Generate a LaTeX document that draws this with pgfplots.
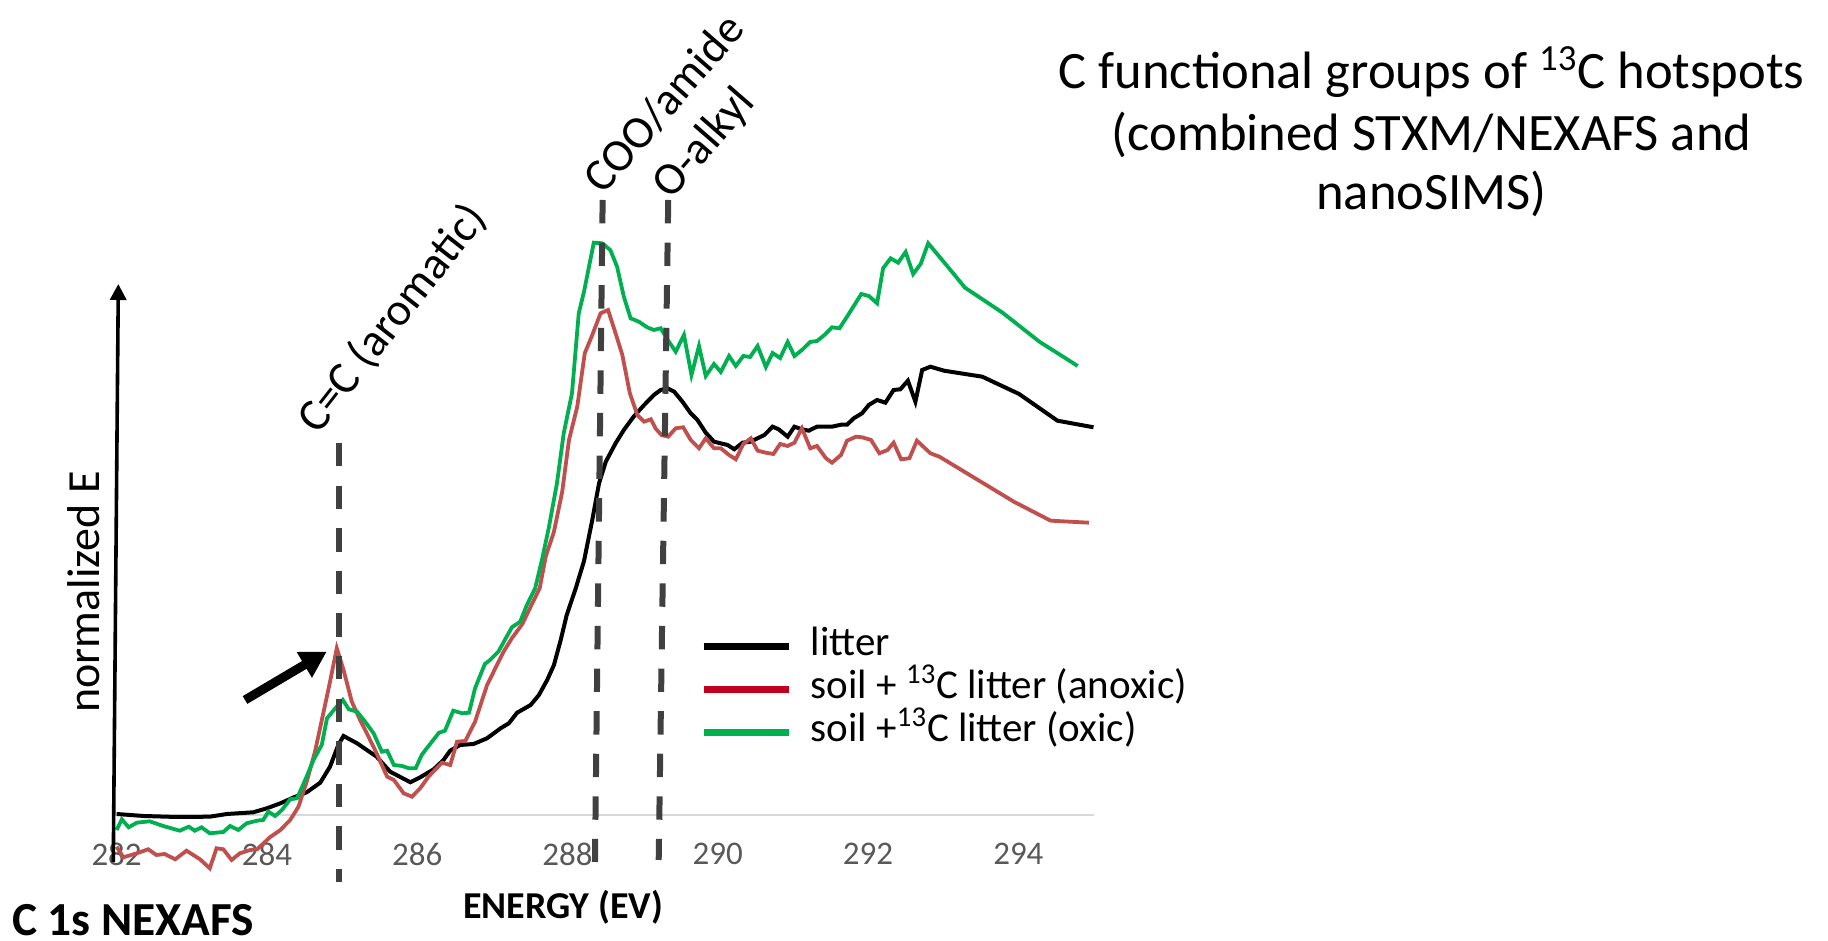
\documentclass[border=0pt]{standalone}
\usepackage{fontspec}
\setmainfont{Carlito}
\usepackage{pgfplots}
\pgfplotsset{compat=1.18}
\usetikzlibrary{arrows.meta}

\definecolor{curvered}{HTML}{C0504D}
\definecolor{curvegreen}{HTML}{00B050}
\definecolor{legred}{HTML}{C0001E}
\definecolor{dashgray}{HTML}{404040}
\definecolor{tickgray}{HTML}{595959}
\definecolor{basegray}{HTML}{D9D9D9}

\begin{document}
\begin{tikzpicture}
\useasboundingbox (0,0) rectangle (914pt,470.5pt);
\begin{axis}[
  at={(58.3pt,53pt)}, anchor=south west,
  scale only axis, width=488.45pt, height=310pt,
  xmin=282, xmax=295, ymin=-0.2, ymax=6,
  clip=false,
  axis line style={draw=none},
  xtick={282,284,...,294}, ytick=\empty,
  major tick length=0pt,
  /pgf/number format/assume math mode=true,
  xticklabel style={font=\fontsize{16.5}{19}\selectfont, text=tickgray, inner sep=3.8pt},
  legend style={at={(axis description cs:0.5972,0.3365)}, anchor=north west,
    draw=none, fill=none, inner sep=0pt, row sep=1.9pt,
    font=\fontsize{20.5}{24}\selectfont,
    nodes={inner sep=0pt, text height=14.6pt, text depth=5pt},
    cells={anchor=west},
    /tikz/every odd column/.append style={column sep=9.5pt}},
  legend image code/.code={\draw[#1] (0pt,0pt) -- (42.5pt,0pt);},
]
% zero line
\draw[basegray, line width=1pt] (axis cs:282,0) -- (axis cs:295,0);

% litter
\addplot[black, line width=2pt, forget plot] coordinates {
(282.00,0.01) (282.36,-0.01) (282.80,-0.02) (283.24,-0.017) (283.47,0.01)
(283.82,0.027) (284.00,0.067) (284.18,0.117) (284.36,0.177) (284.53,0.227)
(284.71,0.323) (284.84,0.483) (284.95,0.70) (285.02,0.79) (285.20,0.717)
(285.46,0.583) (285.64,0.433) (285.91,0.327) (286.04,0.377) (286.22,0.457)
(286.35,0.55) (286.44,0.643) (286.57,0.70) (286.75,0.71) (286.93,0.767)
(287.11,0.867) (287.22,0.917) (287.33,1.023) (287.51,1.10) (287.62,1.20)
(287.73,1.35) (287.82,1.50) (287.91,1.75) (287.99,2.00) (288.11,2.267)
(288.22,2.54) (288.33,2.95) (288.42,3.317) (288.51,3.533) (288.64,3.717)
(288.75,3.85) (288.88,3.983) (289.02,4.10) (289.15,4.20) (289.24,4.25)
(289.33,4.267) (289.42,4.233) (289.53,4.133) (289.64,4.017) (289.73,3.95)
(289.84,3.823) (289.95,3.733) (290.13,3.70) (290.22,3.657) (290.33,3.723)
(290.44,3.733) (290.53,3.767) (290.62,3.80) (290.73,3.883) (290.81,3.857)
(290.93,3.783) (291.02,3.883) (291.12,3.857) (291.21,3.843) (291.32,3.883)
(291.52,3.883) (291.64,3.903) (291.72,3.903) (291.81,3.967) (291.92,4.017)
(292.01,4.10) (292.12,4.15) (292.23,4.123) (292.34,4.25) (292.43,4.257)
(292.53,4.343) (292.63,4.133) (292.72,4.45) (292.83,4.483) (293.01,4.443)
(293.23,4.417) (293.52,4.383) (294.01,4.21) (294.52,3.943) (295.00,3.877)
};

% soil + 13C litter (anoxic)
\addplot[curvered, line width=1.9pt, forget plot] coordinates {
(282.00,-0.317) (282.09,-0.423) (282.27,-0.383) (282.42,-0.343) (282.53,-0.40)
(282.64,-0.39) (282.78,-0.443) (282.93,-0.357) (283.11,-0.443) (283.24,-0.533)
(283.33,-0.333) (283.42,-0.343) (283.53,-0.45) (283.64,-0.383) (283.78,-0.35)
(283.87,-0.343) (284.04,-0.223) (284.18,-0.15) (284.31,-0.05) (284.42,0.083)
(284.53,0.333) (284.64,0.633) (284.76,1.05) (284.84,1.333) (284.93,1.667)
(285.02,1.45) (285.13,1.133) (285.24,0.95) (285.33,0.817) (285.46,0.617)
(285.60,0.383) (285.69,0.35) (285.82,0.217) (285.93,0.183) (286.04,0.267)
(286.15,0.383) (286.33,0.523) (286.44,0.50) (286.53,0.733) (286.64,0.74)
(286.77,0.933) (286.93,1.30) (287.04,1.467) (287.15,1.633) (287.26,1.767)
(287.40,1.91) (287.51,2.083) (287.63,2.267) (287.71,2.583) (287.82,2.833)
(287.93,3.233) (288.02,3.75) (288.13,4.083) (288.23,4.617) (288.33,4.80)
(288.44,5.017) (288.54,5.05) (288.64,4.817) (288.73,4.60) (288.83,4.217)
(288.93,4.00) (289.02,3.933) (289.11,3.957) (289.17,3.867) (289.25,3.80)
(289.34,3.783) (289.44,3.867) (289.54,3.877) (289.64,3.75) (289.75,3.667)
(289.84,3.767) (289.95,3.667) (290.04,3.667) (290.15,3.60) (290.24,3.557)
(290.34,3.71) (290.44,3.767) (290.53,3.643) (290.64,3.623) (290.74,3.61)
(290.83,3.71) (290.93,3.69) (291.02,3.723) (291.12,3.867) (291.23,3.667)
(291.32,3.69) (291.44,3.567) (291.52,3.523) (291.64,3.60) (291.72,3.743)
(291.84,3.783) (291.92,3.777) (292.04,3.75) (292.15,3.617) (292.26,3.65)
(292.34,3.723) (292.44,3.557) (292.55,3.567) (292.65,3.743) (292.83,3.617)
(292.95,3.583) (293.50,3.333) (293.94,3.133) (294.43,2.943) (294.94,2.923)
};

% soil + 13C litter (oxic)
\addplot[curvegreen, line width=1.9pt, forget plot] coordinates {
(282.00,-0.15) (282.07,-0.043) (282.16,-0.123) (282.27,-0.077) (282.44,-0.063)
(282.62,-0.11) (282.84,-0.157) (282.96,-0.117) (283.04,-0.157) (283.13,-0.123)
(283.24,-0.183) (283.42,-0.17) (283.51,-0.11) (283.62,-0.15) (283.73,-0.083)
(283.87,-0.057) (283.95,-0.05) (284.02,0.033) (284.11,-0.01) (284.20,0.05)
(284.31,0.157) (284.40,0.167) (284.51,0.35) (284.62,0.55) (284.73,0.70)
(284.80,0.967) (284.91,1.067) (285.01,1.15) (285.09,1.057) (285.20,1.033)
(285.29,0.95) (285.42,0.817) (285.53,0.633) (285.60,0.643) (285.69,0.50)
(285.80,0.49) (285.89,0.467) (285.98,0.467) (286.06,0.60) (286.11,0.65)
(286.29,0.823) (286.37,0.843) (286.48,1.043) (286.60,1.017) (286.69,1.023)
(286.77,1.267) (286.90,1.51) (286.97,1.55) (287.08,1.633) (287.26,1.877)
(287.37,1.933) (287.46,2.10) (287.57,2.267) (287.66,2.55) (287.75,2.867)
(287.86,3.317) (287.95,3.817) (288.06,4.217) (288.15,5.017) (288.22,5.233)
(288.35,5.723) (288.46,5.717) (288.57,5.65) (288.66,5.483) (288.75,5.183)
(288.84,4.967) (288.95,4.933) (289.06,4.877) (289.15,4.85) (289.24,4.867)
(289.35,4.733) (289.44,4.633) (289.55,4.80) (289.65,4.40) (289.75,4.69)
(289.84,4.39) (289.95,4.51) (290.04,4.43) (290.15,4.59) (290.24,4.49)
(290.34,4.59) (290.43,4.58) (290.53,4.69) (290.64,4.48) (290.73,4.62)
(290.83,4.57) (290.93,4.73) (291.02,4.59) (291.12,4.65) (291.23,4.73)
(291.32,4.74) (291.42,4.80) (291.52,4.877) (291.62,4.867) (291.72,4.983)
(291.81,5.09) (291.91,5.21) (292.01,5.19) (292.12,5.117) (292.20,5.467)
(292.30,5.567) (292.40,5.523) (292.50,5.63) (292.60,5.41) (292.70,5.51)
(292.80,5.717) (293.06,5.483) (293.29,5.273) (293.79,5.023) (294.28,4.733)
(294.79,4.49)
};

\addlegendimage{black, line width=3.2pt}
\addlegendentry{litter}
\addlegendimage{legred, line width=3.2pt}
\addlegendentry{soil + \textsuperscript{13}C litter (anoxic)}
\addlegendimage{curvegreen, line width=3.2pt}
\addlegendentry{soil +\textsuperscript{13}C litter (oxic)}

% band positions
\draw[dashgray, line width=3pt, dash pattern=on 11.7pt off 9.6pt]
  (axis cs:284.957,3.72) -- (axis cs:284.957,-0.67);
\draw[dashgray, line width=3pt, dash pattern=on 11.7pt off 9.6pt]
  (axis cs:288.468,6.15) -- (axis cs:288.366,-0.47);
\draw[dashgray, line width=3pt, dash pattern=on 11.7pt off 9.6pt]
  (axis cs:289.341,6.15) -- (axis cs:289.214,-0.45);

% intensity arrow
\draw[black, line width=1.8pt, -{Triangle[length=8pt,width=8pt]}]
  (axis cs:281.956,-0.47) -- (axis cs:282.023,5.31);

% pointer to the aromatic peak
\draw[black, line width=4.5pt, -{Triangle[length=13pt,width=14pt]}]
  (axis cs:283.709,1.15) -- (axis cs:284.796,1.633);
\end{axis}

% band labels
\node[rotate=52, anchor=base west, inner sep=0pt, font=\fontsize{23}{27}\selectfont]
  at (159pt,252.5pt) {C=C (aromatic)};
\node[rotate=49, anchor=base west, inner sep=0pt, font=\fontsize{23}{27}\selectfont]
  at (301.5pt,372.6pt) {COO/amide};
\node[rotate=49, anchor=base west, inner sep=0pt, font=\fontsize{23}{27}\selectfont]
  at (335.6pt,369.9pt) {O-alkyl};

% axis titles
\node[rotate=90, anchor=base, inner sep=0pt, font=\fontsize{23}{27}\selectfont]
  at (49.65pt,174.5pt) {normalized E};
\node[anchor=base, inner sep=0pt, font=\bfseries\fontsize{19}{23}\selectfont]
  at (281.5pt,11.2pt) {ENERGY (EV)};
\node[anchor=base west, inner sep=0pt, font=\bfseries\fontsize{23.7}{28}\selectfont]
  at (5.8pt,2.6pt) {C 1s NEXAFS};

% heading
\node[anchor=base, inner sep=0pt, font=\fontsize{26.3}{31}\selectfont]
  at (715.8pt,426.2pt) {C functional groups of \textsuperscript{13}C hotspots};
\node[anchor=base, inner sep=0pt, font=\fontsize{26.3}{31}\selectfont]
  at (715.8pt,395.3pt) {(combined STXM/NEXAFS and};
\node[anchor=base, inner sep=0pt, font=\fontsize{26.3}{31}\selectfont]
  at (715.8pt,365.6pt) {nanoSIMS)};
\end{tikzpicture}
\end{document}
